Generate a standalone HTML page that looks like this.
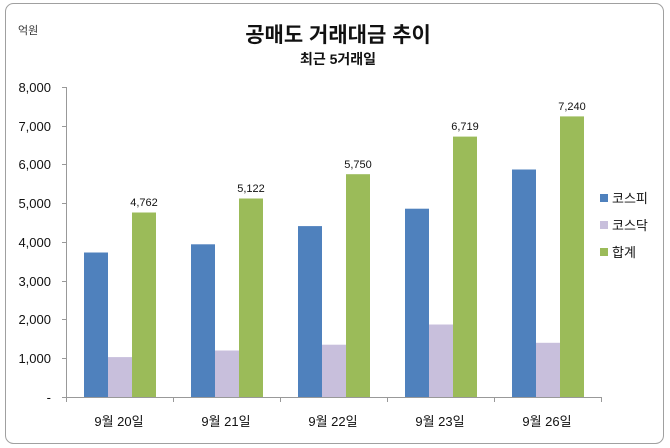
<!DOCTYPE html><html><head><meta charset="utf-8"><style>body{margin:0;background:#fff}svg{display:block}text{font-family:"Liberation Sans","Noto Sans CJK KR",sans-serif}</style></head><body>
<svg width="670" height="448" xmlns="http://www.w3.org/2000/svg">
<rect x="5.5" y="3.5" width="658" height="440" rx="8" fill="#fff" stroke="#a0a0a0"/>
<text x="338" y="42" font-size="21" font-weight="bold" text-anchor="middle" fill="#111">공매도 거래대금 추이</text>
<text x="338" y="64" font-size="14" font-weight="bold" text-anchor="middle" fill="#111">최근 5거래일</text>
<text x="18" y="34" font-size="11" fill="#333">억원</text>
<g stroke="#999" stroke-width="1">
<line x1="66.5" y1="87" x2="66.5" y2="397"/>
<line x1="66" y1="397.5" x2="601" y2="397.5"/>
<line x1="62" y1="87.5" x2="66" y2="87.5"/><line x1="62" y1="126.5" x2="66" y2="126.5"/><line x1="62" y1="164.5" x2="66" y2="164.5"/><line x1="62" y1="203.5" x2="66" y2="203.5"/><line x1="62" y1="242.5" x2="66" y2="242.5"/><line x1="62" y1="281.5" x2="66" y2="281.5"/><line x1="62" y1="319.5" x2="66" y2="319.5"/><line x1="62" y1="358.5" x2="66" y2="358.5"/><line x1="62" y1="397.5" x2="66" y2="397.5"/>
<line x1="66.5" y1="397" x2="66.5" y2="402"/><line x1="173.5" y1="397" x2="173.5" y2="402"/><line x1="280.5" y1="397" x2="280.5" y2="402"/><line x1="387.5" y1="397" x2="387.5" y2="402"/><line x1="494.5" y1="397" x2="494.5" y2="402"/><line x1="601.5" y1="397" x2="601.5" y2="402"/>
</g>
<g font-size="13" text-anchor="end" fill="#111">
<text x="51" y="92">8,000</text><text x="51" y="131">7,000</text><text x="51" y="169">6,000</text><text x="51" y="208">5,000</text><text x="51" y="247">4,000</text><text x="51" y="286">3,000</text><text x="51" y="324">2,000</text><text x="51" y="363">1,000</text><text x="51" y="402">-</text>
</g>
<g id="bars"></g>
<g font-size="13" text-anchor="middle" fill="#111">
<text x="119" y="426">9월 20일</text><text x="226" y="426">9월 21일</text><text x="333" y="426">9월 22일</text><text x="440" y="426">9월 23일</text><text x="547" y="426">9월 26일</text>
</g>
<!-- bars: scale 0.03875 px per unit, base 397 -->
<g>
<rect x="84" y="252.5" width="24" height="144.5" fill="#4f81bd"/><rect x="108" y="357.1" width="24" height="39.9" fill="#c8bfdc"/><rect x="132" y="212.5" width="24" height="184.5" fill="#9bbb59"/>
<rect x="191" y="244.3" width="24" height="152.7" fill="#4f81bd"/><rect x="215" y="350.5" width="24" height="46.5" fill="#c8bfdc"/><rect x="239" y="198.5" width="24" height="198.5" fill="#9bbb59"/>
<rect x="298" y="226.1" width="24" height="170.9" fill="#4f81bd"/><rect x="322" y="344.7" width="24" height="52.3" fill="#c8bfdc"/><rect x="346" y="174.2" width="24" height="222.8" fill="#9bbb59"/>
<rect x="405" y="208.7" width="24" height="188.3" fill="#4f81bd"/><rect x="429" y="324.5" width="24" height="72.5" fill="#c8bfdc"/><rect x="453" y="136.6" width="24" height="260.4" fill="#9bbb59"/>
<rect x="512" y="169.5" width="24" height="227.5" fill="#4f81bd"/><rect x="536" y="342.8" width="24" height="54.2" fill="#c8bfdc"/><rect x="560" y="116.4" width="24" height="280.6" fill="#9bbb59"/>
</g>
<g font-size="11" text-anchor="middle" fill="#111">
<text x="144" y="206">4,762</text><text x="251" y="192">5,122</text><text x="358" y="168">5,750</text><text x="465" y="130">6,719</text><text x="572" y="110">7,240</text>
</g>
<rect x="600" y="194" width="8" height="8" fill="#4f81bd"/><text x="612" y="203" font-size="13" fill="#111">코스피</text>
<rect x="600" y="221" width="8" height="8" fill="#c8bfdc"/><text x="612" y="230" font-size="13" fill="#111">코스닥</text>
<rect x="600" y="248" width="8" height="8" fill="#9bbb59"/><text x="612" y="257" font-size="13" fill="#111">합계</text>
</svg>
</body></html>
